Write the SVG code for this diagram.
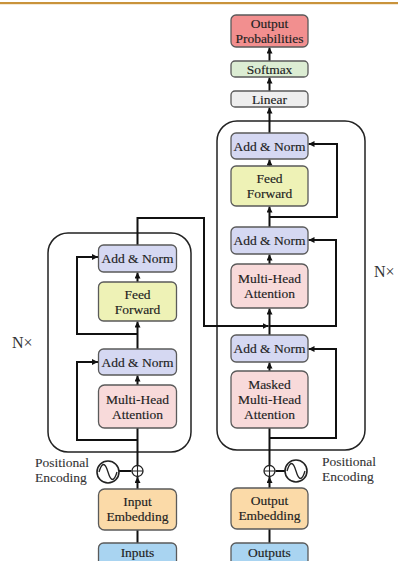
<svg xmlns="http://www.w3.org/2000/svg" width="398" height="561" viewBox="0 0 398 561">
<defs>
<marker id="ah" markerUnits="userSpaceOnUse" markerWidth="7" markerHeight="7" refX="6" refY="3" orient="auto"><path d="M0,0 L6,3 L0,6 z" fill="#111"/></marker>
<style>
.bx{stroke:#5a5a5a;stroke-width:1.3}
.t{font-family:"Liberation Serif","Times New Roman",serif;font-size:13.5px;fill:#222;text-anchor:middle;stroke:#222;stroke-width:0.15}
.tl{font-family:"Liberation Serif","Times New Roman",serif;font-size:13.5px;fill:#333;stroke:#333;stroke-width:0.1}
.n{font-family:"Liberation Serif","Times New Roman",serif;font-size:16px;fill:#333}
.c{fill:none;stroke:#111;stroke-width:2}
.a{fill:none;stroke:#111;stroke-width:2;marker-end:url(#ah)}
.outer{fill:none;stroke:#222;stroke-width:1.5}
.an{fill:#d5d8f2}.ff{fill:#eef2b6}.mh{fill:#f8dada}.em{fill:#fbdaa8}.in{fill:#a9d4f1}
</style>
</defs>
<rect x="0" y="2" width="398" height="2.2" fill="#c9933b"/>
<rect class="outer" x="48" y="233" width="143" height="219" rx="20"/>
<rect class="outer" x="217" y="121" width="148" height="329" rx="20"/>
<text class="n" x="12" y="348">N×</text>
<text class="n" x="374" y="277">N×</text>

<g id="connectors">
<line class="a" x1="269.5" y1="61" x2="269.5" y2="47.5"/>
<line class="a" x1="269.5" y1="91" x2="269.5" y2="77.5"/>
<line class="a" x1="269.5" y1="133" x2="269.5" y2="107.5"/>
<line class="a" x1="269.5" y1="166" x2="269.5" y2="159.5"/>
<polyline class="a" points="269.5,217 337,217 337,144 308.5,144"/>
<line class="a" x1="269.5" y1="227" x2="269.5" y2="206.5"/>
<line class="a" x1="269.5" y1="264" x2="269.5" y2="254.5"/>
<polyline class="a" points="269.5,326 336,326 336,240 308.5,240"/>
<line class="a" x1="269.5" y1="335" x2="269.5" y2="308.5"/>
<polyline class="a" points="137.5,245 137.5,218 204,218 204,326 268.5,326"/>
<line class="a" x1="269.5" y1="371" x2="269.5" y2="362.5"/>
<polyline class="a" points="269.5,438 336,438 336,349 308.5,349"/>
<line class="c" x1="269.5" y1="465.5" x2="269.5" y2="428"/>
<line class="a" x1="269.5" y1="488" x2="269.5" y2="477"/>
<line class="c" x1="269.5" y1="543" x2="269.5" y2="529"/>
<line class="c" x1="275.5" y1="471" x2="285" y2="471"/>
<line class="c" x1="137.5" y1="543" x2="137.5" y2="530"/>
<line class="a" x1="137.5" y1="489" x2="137.5" y2="477"/>
<line class="c" x1="137.5" y1="465.5" x2="137.5" y2="428"/>
<polyline class="a" points="137.5,440 77,440 77,362 98,362"/>
<line class="a" x1="137.5" y1="385" x2="137.5" y2="375.5"/>
<line class="a" x1="137.5" y1="349" x2="137.5" y2="321.5"/>
<polyline class="a" points="137.5,334 77,334 77,257 98,257"/>
<line class="a" x1="137.5" y1="282" x2="137.5" y2="272.5"/>
<line class="c" x1="119" y1="471" x2="131.5" y2="471"/>
</g>

<g id="out-prob"><rect class="bx" x="231" y="15" width="77" height="32" rx="5" fill="#f28f8f"/><text class="t" x="269.5" y="28">Output</text><text class="t" x="269.5" y="43">Probabilities</text></g>
<g id="softmax"><rect class="bx" x="231" y="61" width="77" height="16" rx="4" fill="#dcedd3"/><text class="t" x="269.5" y="73.5">Softmax</text></g>
<g id="linear"><rect class="bx" x="231" y="91" width="77" height="16" rx="4" fill="#eeeeee"/><text class="t" x="269.5" y="103.5">Linear</text></g>
<g id="dec-addnorm3"><rect class="bx an" x="231" y="133" width="77" height="26" rx="5"/><text class="t" x="269.5" y="150.5">Add &amp; Norm</text></g>
<g id="dec-ff"><rect class="bx ff" x="231" y="166" width="77" height="40" rx="5"/><text class="t" x="269.5" y="183">Feed</text><text class="t" x="269.5" y="198">Forward</text></g>
<g id="dec-addnorm2"><rect class="bx an" x="231" y="227" width="77" height="27" rx="5"/><text class="t" x="269.5" y="245">Add &amp; Norm</text></g>
<g id="dec-mha"><rect class="bx mh" x="231" y="264" width="77" height="44" rx="6"/><text class="t" x="269.5" y="283">Multi-Head</text><text class="t" x="269.5" y="298">Attention</text></g>
<g id="dec-addnorm1"><rect class="bx an" x="231" y="335" width="77" height="27" rx="5"/><text class="t" x="269.5" y="353">Add &amp; Norm</text></g>
<g id="dec-mmha"><rect class="bx mh" x="231" y="371" width="77" height="57" rx="6"/><text class="t" x="269.5" y="389">Masked</text><text class="t" x="269.5" y="404">Multi-Head</text><text class="t" x="269.5" y="419">Attention</text></g>
<g id="dec-pe"><circle cx="269.5" cy="471" r="5.5" fill="#fff" stroke="#222" stroke-width="1.3"/><path d="M264,471 H275 M269.5,465.5 V476.5" stroke="#222" stroke-width="1.1"/><circle cx="296" cy="471" r="11" fill="#fff" stroke="#222" stroke-width="1.6"/><path d="M287,471 C290,461 293,461 296,471 C299,481 302,481 305,471" fill="none" stroke="#222" stroke-width="1.3"/><text class="tl" x="322" y="466">Positional</text><text class="tl" x="322" y="481">Encoding</text></g>
<g id="out-emb"><rect class="bx em" x="231" y="488" width="77" height="41" rx="6"/><text class="t" x="269.5" y="505">Output</text><text class="t" x="269.5" y="520">Embedding</text></g>
<g id="outputs"><rect class="bx in" x="231" y="543" width="77" height="30" rx="5"/><text class="t" x="269.5" y="557">Outputs</text></g>

<g id="enc-addnorm2"><rect class="bx an" x="98.5" y="245" width="78" height="27" rx="5"/><text class="t" x="137.5" y="263">Add &amp; Norm</text></g>
<g id="enc-ff"><rect class="bx ff" x="98.5" y="282" width="78" height="39" rx="5"/><text class="t" x="137.5" y="298.5">Feed</text><text class="t" x="137.5" y="313.5">Forward</text></g>
<g id="enc-addnorm1"><rect class="bx an" x="98.5" y="349" width="78" height="26" rx="5"/><text class="t" x="137.5" y="366.5">Add &amp; Norm</text></g>
<g id="enc-mha"><rect class="bx mh" x="98.5" y="385" width="78" height="43" rx="6"/><text class="t" x="137.5" y="403.5">Multi-Head</text><text class="t" x="137.5" y="418.5">Attention</text></g>
<g id="enc-pe"><circle cx="137.5" cy="471" r="5.5" fill="#fff" stroke="#222" stroke-width="1.3"/><path d="M132,471 H143 M137.5,465.5 V476.5" stroke="#222" stroke-width="1.1"/><circle cx="108" cy="472" r="11" fill="#fff" stroke="#222" stroke-width="1.6"/><path d="M99,472 C102,462 105,462 108,472 C111,482 114,482 117,472" fill="none" stroke="#222" stroke-width="1.3"/><text class="tl" x="35" y="467">Positional</text><text class="tl" x="35" y="482">Encoding</text></g>
<g id="in-emb"><rect class="bx em" x="98.5" y="489" width="78" height="41" rx="6"/><text class="t" x="137.5" y="506">Input</text><text class="t" x="137.5" y="521">Embedding</text></g>
<g id="inputs"><rect class="bx in" x="98.5" y="543" width="78" height="30" rx="5"/><text class="t" x="137.5" y="557">Inputs</text></g>
</svg>
